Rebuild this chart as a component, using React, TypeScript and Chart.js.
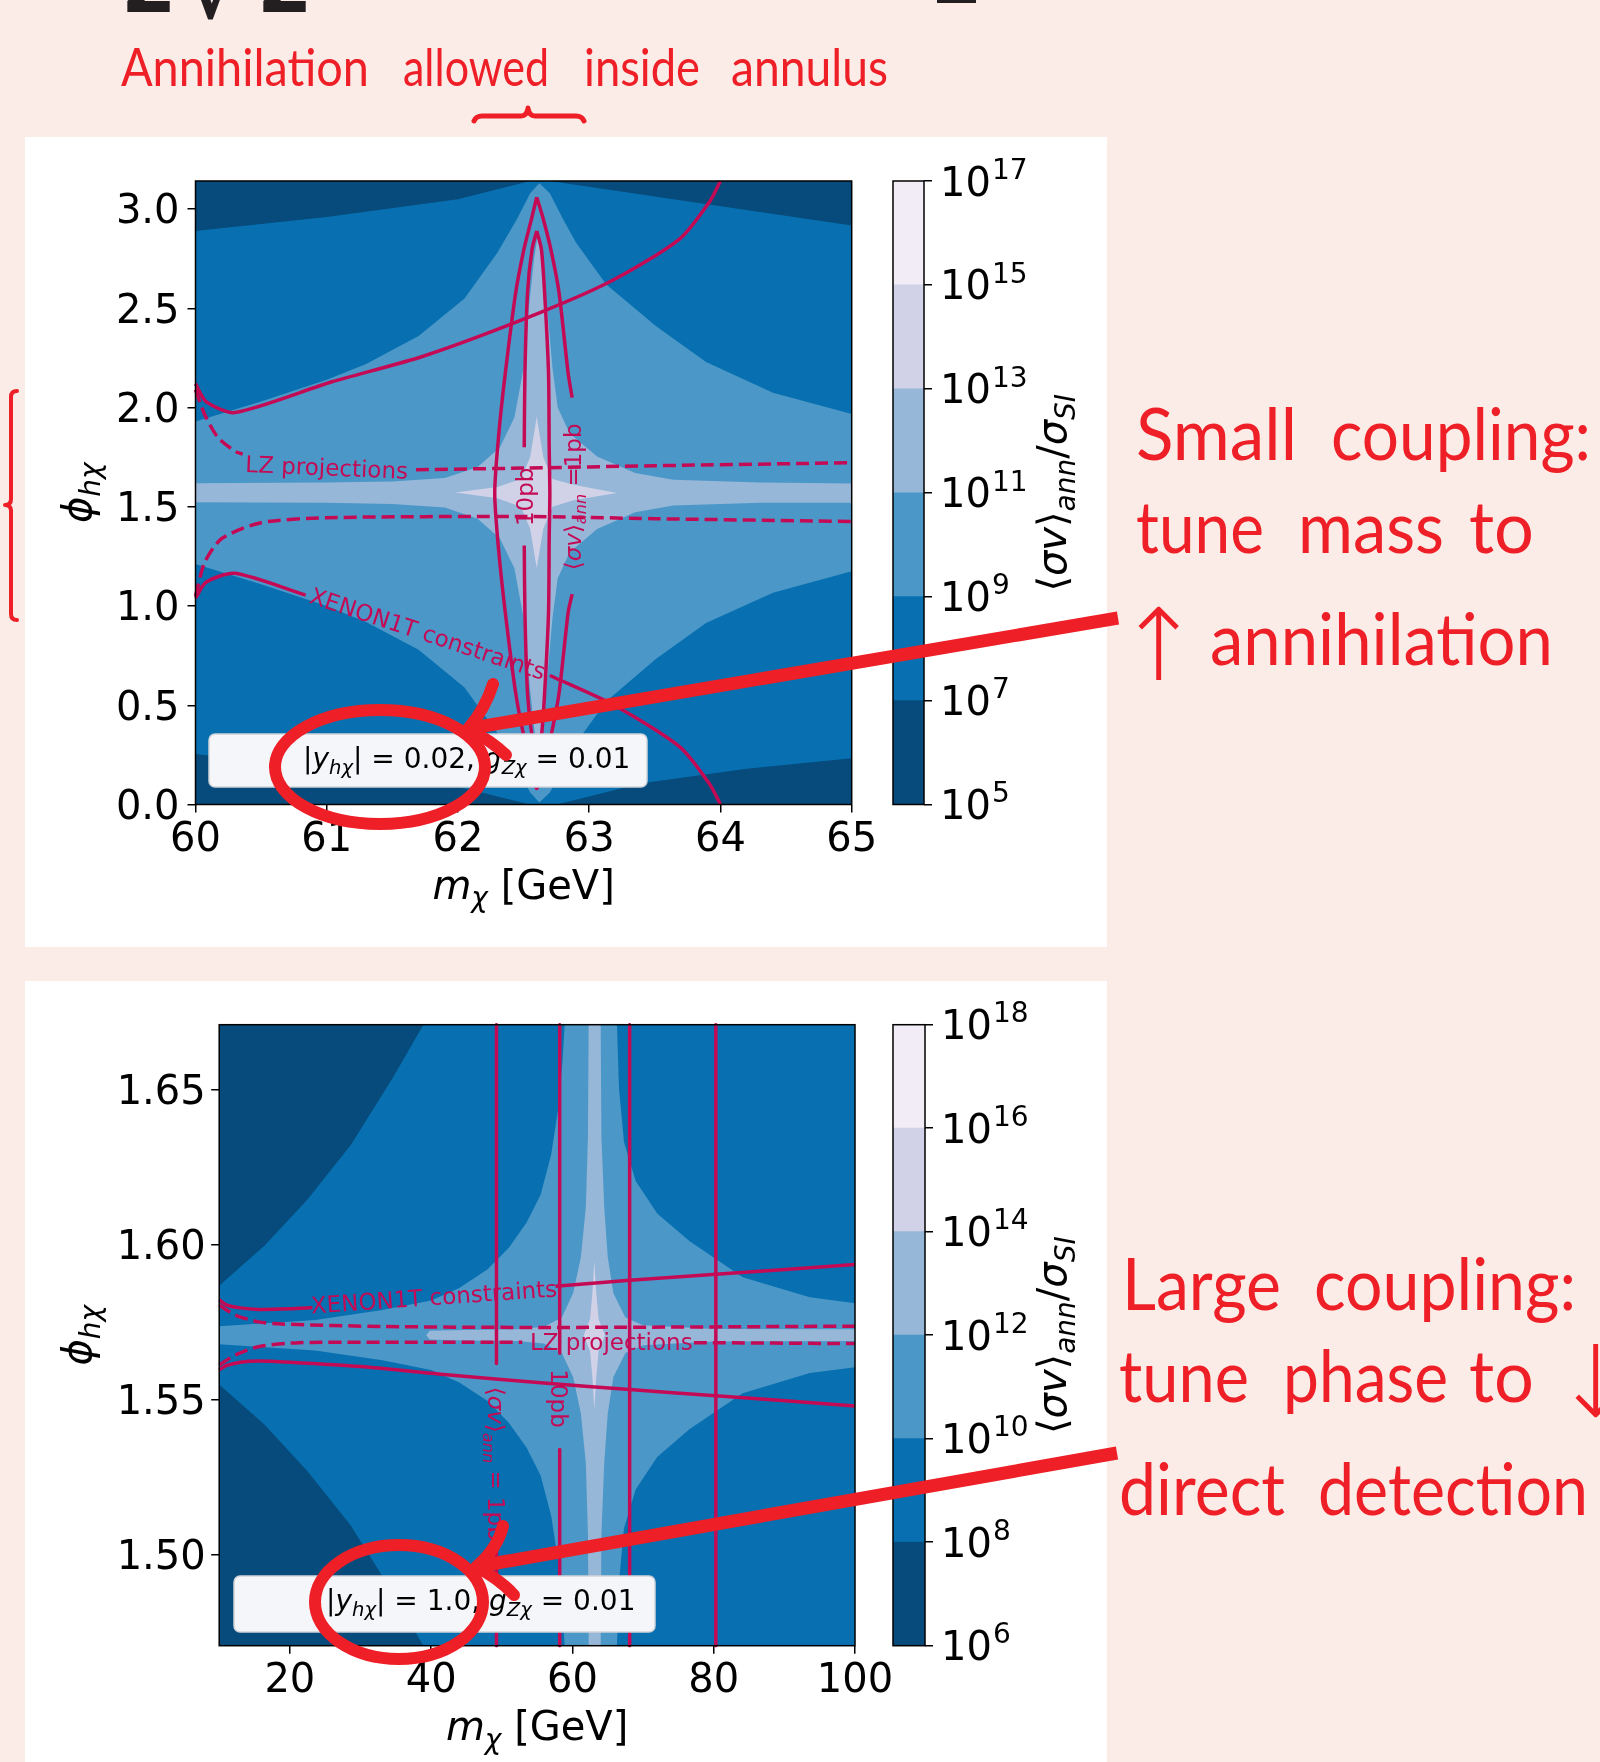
import React, { useEffect, useRef } from 'react';
import { Chart, registerables } from 'chart.js';

Chart.register(...registerables);
Chart.defaults.font.family = '"DejaVu Sans"';

type P = [number, number] | null;
type Seg = { t: string; it?: boolean; sub?: boolean; sup?: boolean };

const SLIDE_BG = '#fbece8';
const ANNOT_RED = '#ee1f26';
const LINE_RED = '#c40a55';
const LEVEL_COLORS = ['#064b7b', '#0870b0', '#4b98c8', '#97b7d9', '#d1d2e7', '#f1ecf5'];

// ================= TOP PANEL  (|y_hchi| = 0.02) =================
const TOP_X_RANGE = [60, 65];
const TOP_Y_RANGE = [0, 3.1416];
const TOP_X_TICKS = [60, 61, 62, 63, 64, 65];
const TOP_Y_TICKS = [0, 0.5, 1.0, 1.5, 2.0, 2.5, 3.0];
const TOP_CB_LEVELS = [1e5, 1e7, 1e9, 1e11, 1e13, 1e15, 1e17];

const TOP_DOMAIN: P[] = [[60, 0], [65, 0], [65, 3.1416], [60, 3.1416]];
const TOP_DARK_TL: P[] = [[60, 3.1416], [60, 2.89], [61, 2.96], [62, 3.05], [62.55, 3.1416]];
const TOP_DARK_TR: P[] = [[62.7, 3.1416], [63.5, 3.063], [64.3, 2.986], [65, 2.918], [65, 3.1416]];
const TOP_DARK_BL: P[] = [[60, 0], [60, 0.254], [61, 0.18], [62, 0.09], [62.55, 0]];
const TOP_DARK_BR: P[] = [[62.75, 0], [63.0, 0.04], [63.4, 0.107], [64.2, 0.18], [65, 0.233], [65, 0]];
const TOP_L2: P[] = [
  [60, 1.93], [60.5, 2.03], [61, 2.14], [61.3, 2.22], [61.7, 2.36], [62.05, 2.55], [62.3, 2.78], [62.45, 2.95],
  [62.55, 3.08], [62.62, 3.13], [62.7, 3.08], [62.8, 2.95], [62.9, 2.83], [63.13, 2.62], [63.51, 2.41], [63.89, 2.23],
  [64.4, 2.075], [65, 1.967],
  [65, 1.175], [64.4, 1.067], [63.89, 0.915], [63.51, 0.735], [63.13, 0.52], [62.9, 0.31], [62.8, 0.19], [62.7, 0.06],
  [62.62, 0.01], [62.55, 0.06], [62.45, 0.19], [62.3, 0.36], [62.05, 0.59], [61.7, 0.78], [61.3, 0.92], [61, 1.0],
  [60.5, 1.11], [60, 1.212],
];
const TOP_L3: P[] = [
  [60, 1.619], [61, 1.622], [61.5, 1.628], [61.9, 1.645], [62.15, 1.70], [62.32, 1.80], [62.43, 1.95], [62.5, 2.2],
  [62.54, 2.5], [62.58, 2.75], [62.61, 2.88], [62.64, 2.75], [62.68, 2.5], [62.72, 2.2], [62.76, 2.0], [62.85, 1.87],
  [63.06, 1.754], [63.35, 1.67], [63.64, 1.636], [64.3, 1.622], [65, 1.617],
  [65, 1.52], [64.3, 1.52], [63.64, 1.506], [63.35, 1.472], [63.06, 1.388], [62.85, 1.27], [62.76, 1.14], [62.72, 0.94],
  [62.68, 0.64], [62.64, 0.39], [62.61, 0.26], [62.58, 0.39], [62.54, 0.64], [62.5, 0.94], [62.43, 1.19], [62.32, 1.34],
  [62.15, 1.44], [61.9, 1.497], [61.5, 1.514], [61, 1.52], [60, 1.523],
];
const TOP_L4: P[] = [
  [61.98, 1.572], [62.3, 1.60], [62.48, 1.64], [62.55, 1.75], [62.575, 1.85], [62.6, 1.955], [62.625, 1.85],
  [62.65, 1.75], [62.72, 1.64], [62.88, 1.611], [63.21, 1.57], [62.88, 1.533], [62.72, 1.50], [62.65, 1.39],
  [62.625, 1.29], [62.6, 1.19], [62.575, 1.29], [62.55, 1.39], [62.48, 1.50], [62.3, 1.543],
];
const TOP_XENON_UPPER: P[] = [
  [60, 2.12], [60.08, 2.03], [60.3, 1.975], [61.04, 2.13], [61.74, 2.26], [62.63, 2.48], [63.19, 2.645],
  [63.69, 2.85], [63.92, 3.04], [64.0, 3.1416],
];
const TOP_XENON_LOWER: P[] = [
  [60, 1.04], [60.08, 1.12], [60.3, 1.165], [60.84, 1.055], null,
  [62.7, 0.65], [63.19, 0.5], [63.69, 0.29], [63.92, 0.1], [64.0, 0],
];
const TOP_LZ_UPPER: P[] = [
  [60, 2.09], [60.07, 1.965], [60.17, 1.85], [60.3, 1.78], [60.36, 1.765], null,
  [61.68, 1.687], [62.5, 1.695], [63.5, 1.707], [65, 1.722],
];
const TOP_LZ_LOWER: P[] = [
  [60, 1.05], [60.07, 1.22], [60.2, 1.34], [60.5, 1.42], [61, 1.445], [62.5, 1.451], [63.5, 1.44], [65, 1.426],
];
const TOP_SV_1PB: P[] = [
  [62.6, 3.06], [62.65, 2.95], [62.71, 2.79], [62.77, 2.58], [62.84, 2.17], [62.87, 2.05], null,
  [62.87, 1.06], [62.84, 0.97], [62.77, 0.56], [62.71, 0.35], [62.65, 0.19], [62.6, 0.08], [62.56, 0.19],
  [62.5, 0.35], [62.44, 0.56], [62.36, 0.97], [62.31, 1.28], [62.28, 1.57], [62.31, 1.86], [62.36, 2.17],
  [62.44, 2.58], [62.5, 2.79], [62.56, 2.95], [62.6, 3.06],
];
const TOP_SV_10PB: P[] = [
  [62.6, 2.89], [62.635, 2.8], [62.66, 2.58], [62.69, 2.17], [62.695, 1.8], [62.7, 1.57], [62.695, 1.34],
  [62.69, 0.97], [62.66, 0.56], [62.635, 0.34], [62.6, 0.25], [62.565, 0.34], [62.53, 0.56], [62.51, 0.97],
  [62.505, 1.305], null, [62.505, 1.8], [62.51, 2.17], [62.53, 2.58], [62.565, 2.8], [62.6, 2.89],
];

// ================= BOTTOM PANEL (|y_hchi| = 1.0) =================
const BOT_X_RANGE = [10, 100];
const BOT_Y_RANGE = [1.4708, 1.6708];
const BOT_X_TICKS = [20, 40, 60, 80, 100];
const BOT_Y_TICKS = [1.5, 1.55, 1.6, 1.65];
const BOT_CB_LEVELS = [1e6, 1e8, 1e10, 1e12, 1e14, 1e16, 1e18];

const BOT_DOMAIN: P[] = [[10, 1.4708], [100, 1.4708], [100, 1.6708], [10, 1.6708]];
const BOT_DARK_TL: P[] = [[10, 1.6708], [10, 1.5867], [16.4, 1.5996], [22.5, 1.6145], [28.6, 1.632], [34.6, 1.6538], [38.9, 1.6708]];
const BOT_DARK_BL: P[] = [[10, 1.4708], [10, 1.5549], [16.4, 1.542], [22.5, 1.527], [28.6, 1.5096], [34.6, 1.4878], [38.9, 1.4708]];
const BOT_L2: P[] = [
  [10, 1.5737], [23.6, 1.5757], [33.1, 1.5789], [40, 1.582], [44, 1.586], [48, 1.592], [51, 1.599], [53.5, 1.607],
  [55.5, 1.616], [57, 1.629], [58, 1.644], [58.6, 1.659], [58.9, 1.6708],
  [66.3, 1.6708], [66.6, 1.65], [67.3, 1.633], [68.95, 1.6205], [72, 1.61], [76.55, 1.6011], [84.1, 1.5895],
  [93.6, 1.583], [100, 1.5811],
  [100, 1.5605], [93.6, 1.5586], [84.1, 1.5521], [76.55, 1.5405], [72, 1.5316], [68.95, 1.5211], [67.3, 1.5086],
  [66.6, 1.4916], [66.3, 1.4708],
  [58.9, 1.4708], [58.6, 1.4826], [58, 1.4976], [57, 1.5126], [55.5, 1.5256], [53.5, 1.5346], [51, 1.5426],
  [48, 1.5496], [44, 1.5556], [40, 1.5596], [33.1, 1.5627], [23.6, 1.5659], [10, 1.5679],
];
const BOT_L3: P[] = [
  [39.3, 1.5708], [39.8, 1.5722], [45, 1.5725], [52, 1.5727], [56, 1.5735], [58.5, 1.5765], [60.1, 1.5843],
  [61.2, 1.596], [61.9, 1.612], [62.2, 1.635], [62.3, 1.6708], [64, 1.6708], [64.1, 1.635], [64.5, 1.612],
  [65, 1.596], [65.8, 1.5843], [67.5, 1.5765], [70, 1.574], [80, 1.5728], [100, 1.5727],
  [100, 1.5689], [80, 1.5688], [70, 1.5676], [67.5, 1.5651], [65.8, 1.5573], [65, 1.5456], [64.5, 1.5296],
  [64.1, 1.5066], [64, 1.4708], [62.3, 1.4708], [62.2, 1.5066], [61.9, 1.5296], [61.2, 1.5456], [60.1, 1.5573],
  [58.5, 1.5651], [56, 1.5681], [52, 1.5689], [45, 1.5691], [39.8, 1.5694],
];
const BOT_L4: P[] = [
  [63.1, 1.5947], [63.35, 1.585], [63.7, 1.576], [64.6, 1.5708], [63.7, 1.5656], [63.35, 1.5566], [63.1, 1.5468],
  [62.85, 1.5566], [62.5, 1.5656], [61.6, 1.5708], [62.5, 1.576], [62.85, 1.585],
];
const BOT_SV_1PB_LEFT: P[] = [[49.25, 1.6708], [49.25, 1.5617], null, [49.25, 1.5035], [49.25, 1.4708]];
const BOT_SV_10PB_LEFT: P[] = [[58.2, 1.6708], [58.2, 1.565], null, [58.2, 1.534], [58.2, 1.4708]];
const BOT_SV_10PB_RIGHT: P[] = [[68.1, 1.6708], [68.1, 1.4708]];
const BOT_SV_1PB_RIGHT: P[] = [[80.3, 1.6708], [80.3, 1.4708]];
const BOT_XENON_UPPER: P[] = [
  [10, 1.5822], [11, 1.5806], [13, 1.5796], [15.6, 1.5791], [20, 1.5793], [23.2, 1.5797], null,
  [57.6, 1.5866], [68.1, 1.5885], [80.3, 1.5904], [100, 1.5936],
];
const BOT_XENON_LOWER: P[] = [
  [10, 1.5596], [11, 1.561], [13, 1.5621], [15.6, 1.5625], [20, 1.5621], [30, 1.5607], [42.6, 1.558],
  [56.4, 1.5553], [68.1, 1.5533], [80.3, 1.5513], [100, 1.548],
];
const BOT_LZ_UPPER: P[] = [
  [10, 1.5805], [12.25, 1.5773], [15.57, 1.5751], [18.9, 1.5744], [33.1, 1.5736], [56.4, 1.5733], [100, 1.5737],
];
const BOT_LZ_LOWER: P[] = [
  [10, 1.5612], [12.25, 1.5644], [15.57, 1.5671], [21.3, 1.5684], [46, 1.5685], [52.9, 1.5685], null,
  [77.2, 1.5684], [100, 1.5681],
];

// ================= text pieces =================
const Y_TITLE: Seg[] = [{ t: 'ϕ', it: true }, { t: 'hχ', it: true, sub: true }];
const X_TITLE: Seg[] = [{ t: 'm', it: true }, { t: 'χ', it: true, sub: true }, { t: ' [GeV]' }];
const CB_TITLE: Seg[] = [
  { t: '⟨' }, { t: 'σv', it: true }, { t: '⟩' }, { t: 'ann', it: true, sub: true },
  { t: '/' }, { t: 'σ', it: true }, { t: 'SI', it: true, sub: true },
];
const LBL_XENON: Seg[] = [{ t: 'XENON1T constraints' }];
const LBL_LZ: Seg[] = [{ t: 'LZ projections' }];
const LBL_10PB: Seg[] = [{ t: '10pb' }];
const LBL_1PB_TOP: Seg[] = [{ t: '⟨' }, { t: 'σv', it: true }, { t: '⟩' }, { t: 'ann', it: true, sub: true }, { t: ' =1pb' }];
const LBL_1PB_BOT: Seg[] = [{ t: '⟨' }, { t: 'σv', it: true }, { t: '⟩' }, { t: 'ann', it: true, sub: true }, { t: ' = 1pb' }];
const BOX_TOP: Seg[] = [
  { t: '|' }, { t: 'y', it: true }, { t: 'hχ', it: true, sub: true }, { t: '| = 0.02, ' },
  { t: 'g', it: true }, { t: 'Zχ', it: true, sub: true }, { t: ' = 0.01' },
];
const BOX_BOT: Seg[] = [
  { t: '|' }, { t: 'y', it: true }, { t: 'hχ', it: true, sub: true }, { t: '| = 1.0, ' },
  { t: 'g', it: true }, { t: 'Zχ', it: true, sub: true }, { t: ' = 0.01' },
];

// ================= helpers =================
function toXY(pts: P[]) {
  return pts.map((p) => (p ? { x: p[0], y: p[1] } : { x: null, y: null }));
}
function segFont(s: Seg, size: number) {
  const sz = s.sub || s.sup ? size * 0.7 : size;
  return `${s.it ? 'italic ' : ''}${sz}px "DejaVu Sans"`;
}
function richWidth(ctx: CanvasRenderingContext2D, segs: Seg[], size: number) {
  let w = 0;
  for (const s of segs) {
    ctx.font = segFont(s, size);
    w += ctx.measureText(s.t).width;
  }
  return w;
}
function drawRich(
  ctx: CanvasRenderingContext2D, segs: Seg[], x: number, y: number, size: number,
  align: 'left' | 'center' | 'right', rotDeg: number, color: string, centerV: boolean,
) {
  ctx.save();
  ctx.translate(x, y);
  ctx.rotate((rotDeg * Math.PI) / 180);
  ctx.fillStyle = color;
  ctx.textBaseline = 'alphabetic';
  ctx.textAlign = 'left';
  const w = richWidth(ctx, segs, size);
  let cx = align === 'center' ? -w / 2 : align === 'right' ? -w : 0;
  const by = centerV ? size * 0.36 : 0;
  for (const s of segs) {
    ctx.font = segFont(s, size);
    const dy = s.sub ? size * 0.22 : s.sup ? -size * 0.42 : 0;
    ctx.fillText(s.t, cx, by + dy);
    cx += ctx.measureText(s.t).width;
  }
  ctx.restore();
}

type Spec = {
  xRange: number[]; yRange: number[]; xTicks: number[]; yTicks: number[]; yDec: number;
  domain: P[]; fills: { pts: P[]; level: number }[]; lines: { pts: P[]; dashed: boolean; smooth: boolean }[];
  labels: { segs: Seg[]; at: [number, number]; rot: number }[];
  box: { segs: Seg[]; dx: number; dyBottom: number; w: number; h: number; textDx: number; baseDy: number };
  yAxisWidth: number; xAxisHeight: number; padTop: number; padRight: number; yTickPad: number; yTitleX: number;
};

const TOP_SPEC: Spec = {
  xRange: TOP_X_RANGE, yRange: TOP_Y_RANGE, xTicks: TOP_X_TICKS, yTicks: TOP_Y_TICKS, yDec: 1,
  domain: TOP_DOMAIN,
  fills: [
    { pts: TOP_DARK_TL, level: 0 }, { pts: TOP_DARK_TR, level: 0 }, { pts: TOP_DARK_BL, level: 0 },
    { pts: TOP_DARK_BR, level: 0 }, { pts: TOP_L2, level: 2 }, { pts: TOP_L3, level: 3 }, { pts: TOP_L4, level: 4 },
  ],
  lines: [
    { pts: TOP_XENON_UPPER, dashed: false, smooth: true }, { pts: TOP_XENON_LOWER, dashed: false, smooth: true },
    { pts: TOP_LZ_UPPER, dashed: true, smooth: true }, { pts: TOP_LZ_LOWER, dashed: true, smooth: true },
    { pts: TOP_SV_1PB, dashed: false, smooth: true }, { pts: TOP_SV_10PB, dashed: false, smooth: true },
  ],
  labels: [
    { segs: LBL_XENON, at: [61.77, 0.862], rot: 18.3 },
    { segs: LBL_LZ, at: [61.0, 1.70], rot: 2.4 },
    { segs: LBL_1PB_TOP, at: [62.875, 1.55], rot: -90 },
    { segs: LBL_10PB, at: [62.505, 1.55], rot: -90 },
  ],
  box: { segs: BOX_TOP, dx: 13.5, dyBottom: 17.5, w: 438, h: 53, textDx: 94, baseDy: 34 },
  yAxisWidth: 170.5, xAxisHeight: 142.5, padTop: 44, padRight: 53.3, yTickPad: 8, yTitleX: 66,
};

const BOT_SPEC: Spec = {
  xRange: BOT_X_RANGE, yRange: BOT_Y_RANGE, xTicks: BOT_X_TICKS, yTicks: BOT_Y_TICKS, yDec: 2,
  domain: BOT_DOMAIN,
  fills: [
    { pts: BOT_DARK_TL, level: 0 }, { pts: BOT_DARK_BL, level: 0 },
    { pts: BOT_L2, level: 2 }, { pts: BOT_L3, level: 3 }, { pts: BOT_L4, level: 4 },
  ],
  lines: [
    { pts: BOT_SV_1PB_LEFT, dashed: false, smooth: false }, { pts: BOT_SV_10PB_LEFT, dashed: false, smooth: false },
    { pts: BOT_SV_10PB_RIGHT, dashed: false, smooth: false }, { pts: BOT_SV_1PB_RIGHT, dashed: false, smooth: false },
    { pts: BOT_XENON_UPPER, dashed: false, smooth: true }, { pts: BOT_XENON_LOWER, dashed: false, smooth: true },
    { pts: BOT_LZ_UPPER, dashed: true, smooth: true }, { pts: BOT_LZ_LOWER, dashed: true, smooth: true },
  ],
  labels: [
    { segs: LBL_XENON, at: [40.4, 1.5832], rot: -4 },
    { segs: LBL_LZ, at: [65.5, 1.5686], rot: 0 },
    { segs: LBL_1PB_BOT, at: [49.25, 1.5294], rot: 90 },
    { segs: LBL_10PB, at: [58.2, 1.5504], rot: 90 },
  ],
  box: { segs: BOX_BOT, dx: 14.8, dyBottom: 13.7, w: 421, h: 56, textDx: 92, baseDy: 33.7 },
  yAxisWidth: 194.2, xAxisHeight: 116.3, padTop: 43.7, padRight: 50, yTickPad: 5.5, yTitleX: 66,
};

function buildMainConfig(spec: Spec): any {
  const datasets: any[] = [];
  datasets.push({
    data: toXY(spec.domain), showLine: true, fill: 'shape', backgroundColor: LEVEL_COLORS[1],
    borderColor: LEVEL_COLORS[1], borderWidth: 0, pointRadius: 0, pointHoverRadius: 0, order: 100, clip: 0,
  });
  spec.fills.forEach((f, i) => {
    datasets.push({
      data: toXY(f.pts), showLine: true, fill: 'shape', backgroundColor: LEVEL_COLORS[f.level],
      borderColor: LEVEL_COLORS[f.level], borderWidth: 0, pointRadius: 0, pointHoverRadius: 0,
      order: 90 - i, clip: 0,
    });
  });
  spec.lines.forEach((l) => {
    datasets.push({
      data: toXY(l.pts), showLine: true, fill: false, borderColor: LINE_RED, backgroundColor: LINE_RED,
      borderWidth: 3.5, borderDash: l.dashed ? [13, 6] : [], pointRadius: 0, pointHoverRadius: 0,
      order: 1, spanGaps: false, clip: 2, tension: l.smooth ? 0.25 : 0, borderJoinStyle: 'round',
    });
  });

  const decor = {
    id: 'mainDecor',
    afterDatasetsDraw(chart: any) {
      const ctx: CanvasRenderingContext2D = chart.ctx;
      const a = chart.chartArea;
      const xs = chart.scales.x;
      const ys = chart.scales.y;
      ctx.save();
      ctx.beginPath();
      ctx.rect(a.left, a.top, a.right - a.left, a.bottom - a.top);
      ctx.clip();
      for (const L of spec.labels) {
        drawRich(ctx, L.segs, xs.getPixelForValue(L.at[0]), ys.getPixelForValue(L.at[1]), 23, 'center', L.rot, LINE_RED, true);
      }
      const b = spec.box;
      const bx = a.left + b.dx;
      const by = a.bottom - b.dyBottom - b.h;
      ctx.beginPath();
      (ctx as any).roundRect(bx, by, b.w, b.h, 6);
      ctx.fillStyle = '#f4f6f9';
      ctx.fill();
      ctx.strokeStyle = '#cfd3d8';
      ctx.lineWidth = 1.5;
      ctx.stroke();
      drawRich(ctx, b.segs, bx + b.textDx, by + b.baseDy, 28, 'left', 0, '#000', false);
      ctx.restore();
      ctx.save();
      ctx.strokeStyle = '#000';
      ctx.lineWidth = 1.5;
      ctx.strokeRect(a.left, a.top, a.right - a.left, a.bottom - a.top);
      ctx.restore();
      drawRich(ctx, X_TITLE, (a.left + a.right) / 2, a.bottom + 94, 40, 'center', 0, '#000', false);
      drawRich(ctx, Y_TITLE, spec.yTitleX, (a.top + a.bottom) / 2, 40, 'center', -90, '#000', false);
    },
  };

  const tickFont = { size: 40, family: '"DejaVu Sans"' };
  const grid = { drawOnChartArea: false, drawTicks: true, tickLength: 8, color: '#000', lineWidth: 1.5 };
  return {
    type: 'scatter',
    data: { datasets },
    options: {
      animation: false,
      responsive: false,
      events: [],
      layout: { autoPadding: false, padding: { left: 0, top: spec.padTop, right: spec.padRight, bottom: 0 } },
      plugins: { legend: { display: false }, tooltip: { enabled: false } },
      scales: {
        x: {
          type: 'linear', min: spec.xRange[0], max: spec.xRange[1],
          afterBuildTicks: (s: any) => { s.ticks = spec.xTicks.map((v) => ({ value: v })); },
          afterFit: (s: any) => { s.height = spec.xAxisHeight; },
          ticks: { callback: (v: any) => Number(v).toFixed(0), font: tickFont, color: '#000', padding: 4, maxRotation: 0, autoSkip: false },
          grid, border: { display: false },
        },
        y: {
          type: 'linear', min: spec.yRange[0], max: spec.yRange[1],
          afterBuildTicks: (s: any) => { s.ticks = spec.yTicks.map((v) => ({ value: v })); },
          afterFit: (s: any) => { s.width = spec.yAxisWidth; },
          ticks: { callback: (v: any) => Number(v).toFixed(spec.yDec), font: tickFont, color: '#000', padding: spec.yTickPad, labelOffset: 4, autoSkip: false },
          grid, border: { display: false },
        },
      },
    },
    plugins: [decor],
  };
}

type CbSpec = { levels: number[]; padLeft: number; padTop: number; padBottom: number; axisWidth: number };
const TOP_CB: CbSpec = { levels: TOP_CB_LEVELS, padLeft: 13, padTop: 44, padBottom: 142.5, axisWidth: 183 };
const BOT_CB: CbSpec = { levels: BOT_CB_LEVELS, padLeft: 13, padTop: 43.7, padBottom: 116.3, axisWidth: 182 };

function buildColorbarConfig(cb: CbSpec): any {
  const datasets = cb.levels.slice(0, -1).map((lo, i) => ({
    data: [[lo, cb.levels[i + 1]]],
    backgroundColor: LEVEL_COLORS[i],
    borderWidth: 0,
    grouped: false,
    barPercentage: 1,
    categoryPercentage: 1,
  }));
  const decor = {
    id: 'cbDecor',
    afterDraw(chart: any) {
      const ctx: CanvasRenderingContext2D = chart.ctx;
      const a = chart.chartArea;
      const ys = chart.scales.y;
      ctx.save();
      ctx.strokeStyle = '#000';
      ctx.lineWidth = 1.5;
      ctx.strokeRect(a.left, a.top, a.right - a.left, a.bottom - a.top);
      ctx.fillStyle = '#000';
      ctx.textBaseline = 'alphabetic';
      ctx.textAlign = 'left';
      for (const v of cb.levels) {
        const y = ys.getPixelForValue(v);
        const x0 = a.right + 16;
        const base = y + 40 * 0.3645;
        ctx.font = '40px "DejaVu Sans"';
        ctx.fillText('10', x0, base);
        const w = ctx.measureText('10').width;
        ctx.font = '28px "DejaVu Sans"';
        ctx.fillText(String(Math.round(Math.log10(v))), x0 + w + 1, base - 16.8);
      }
      ctx.restore();
      drawRich(ctx, CB_TITLE, 186, (a.top + a.bottom) / 2, 40, 'center', -90, '#000', false);
    },
  };
  return {
    type: 'bar',
    data: { labels: [''], datasets },
    options: {
      animation: false,
      responsive: false,
      events: [],
      layout: { autoPadding: false, padding: { left: cb.padLeft, top: cb.padTop, right: 0, bottom: cb.padBottom } },
      plugins: { legend: { display: false }, tooltip: { enabled: false } },
      scales: {
        x: { display: false },
        y: {
          type: 'logarithmic', position: 'right', min: cb.levels[0], max: cb.levels[cb.levels.length - 1],
          afterBuildTicks: (s: any) => { s.ticks = cb.levels.map((v) => ({ value: v })); },
          afterFit: (s: any) => { s.width = cb.axisWidth; },
          ticks: { callback: () => '', autoSkip: false },
          grid: { drawOnChartArea: false, drawTicks: true, tickLength: 8, color: '#000', lineWidth: 1.5 },
          border: { display: false },
        },
      },
    },
    plugins: [decor],
  };
}

function ChartCanvas(props: { config: () => any; left: number; top: number; width: number; height: number }) {
  const ref = useRef<HTMLCanvasElement>(null);
  useEffect(() => {
    const chart = new Chart(ref.current as HTMLCanvasElement, props.config());
    return () => chart.destroy();
  }, []);
  return (
    <canvas
      ref={ref}
      width={props.width}
      height={props.height}
      style={{ position: 'absolute', left: props.left, top: props.top, width: props.width, height: props.height }}
    />
  );
}

// slide annotation words: [text, x, baseline, fontSize, length]
const ANNOT_WORDS: [string, number, number, number, number][] = [
  ['Annihilation', 121, 86, 53, 248], ['allowed', 403, 86, 53, 146], ['inside', 584, 86, 53, 116], ['annulus', 731, 86, 53, 157],
  ['Small', 1136, 460, 72, 161], ['coupling:', 1331, 460, 72, 260],
  ['tune', 1136, 553, 72, 128], ['mass', 1298, 553, 72, 146], ['to', 1469, 553, 72, 65],
  ['annihilation', 1210, 665, 72, 343],
  ['Large', 1122, 1310, 72, 159], ['coupling:', 1314, 1310, 72, 262],
  ['tune', 1119, 1402, 72, 130], ['phase', 1283, 1402, 72, 165], ['to', 1469, 1402, 72, 65],
  ['direct', 1119, 1515, 72, 166], ['detection', 1318, 1515, 72, 270],
];

function Annotations() {
  return (
    <svg width={1600} height={1762} style={{ position: 'absolute', left: 0, top: 0, pointerEvents: 'none' }}>
      <text x={121} y={12} fontFamily="DejaVu Sans" fontWeight="bold" fontSize={80} fill="#231f20">2</text>
      <text x={186} y={18} fontFamily="DejaVu Sans" fontWeight="bold" fontSize={80} fill="#231f20">√</text>
      <text x={257} y={12} fontFamily="DejaVu Sans" fontWeight="bold" fontSize={80} fill="#231f20">2</text>
      <rect x={937} y={0} width={39} height={3} fill="#231f20" />
      {ANNOT_WORDS.map(([s, x, y, fs, len], i) => (
        <text key={i} x={x} y={y} fontFamily="Lato" fontSize={fs} fill={ANNOT_RED} textLength={len} lengthAdjust="spacingAndGlyphs">{s}</text>
      ))}
      <text x={1117} y={680} fontFamily="DejaVu Sans" fontWeight={200} fontSize={100} fill={ANNOT_RED}>↑</text>
      <text x={1554} y={1417} fontFamily="DejaVu Sans" fontWeight={200} fontSize={100} fill={ANNOT_RED}>↓</text>
      <path d="M 474 121 Q 476 116 482 116 L 521 116 Q 527 116 528 108 Q 529 116 535 116 L 576 116 Q 582 116 584 121"
        stroke={ANNOT_RED} strokeWidth={5} fill="none" strokeLinecap="round" strokeLinejoin="round" />
      <path d="M 17 391 Q 11 391 11 397 L 11 499 Q 11 505 5 505 Q 11 505 11 511 L 11 614 Q 11 620 17 620"
        stroke={ANNOT_RED} strokeWidth={4} fill="none" strokeLinecap="round" strokeLinejoin="round" />
      <line x1={1118} y1={618} x2={472} y2={728} stroke={ANNOT_RED} strokeWidth={13} />
      <path d="M 493 684 C 488 700 479 716 468 729 C 482 736 495 744 506 755" stroke={ANNOT_RED} strokeWidth={12}
        fill="none" strokeLinecap="round" strokeLinejoin="round" />
      <ellipse cx={380} cy={767} rx={105} ry={57} stroke={ANNOT_RED} strokeWidth={12} fill="none" />
      <line x1={1117} y1={1453} x2={480} y2={1566} stroke={ANNOT_RED} strokeWidth={13} />
      <path d="M 503 1526 C 499 1542 489 1556 476 1567 C 490 1574 503 1583 514 1595" stroke={ANNOT_RED} strokeWidth={12}
        fill="none" strokeLinecap="round" strokeLinejoin="round" />
      <ellipse cx={399} cy={1602} rx={84} ry={57} stroke={ANNOT_RED} strokeWidth={12} fill="none" />
    </svg>
  );
}

export default function App() {
  return (
    <div style={{ position: 'absolute', left: 0, top: 0, width: 1600, height: 1762, background: SLIDE_BG, overflow: 'hidden' }}>
      <div style={{ position: 'absolute', left: 25, top: 137, width: 1082, height: 810, background: '#fff' }} />
      <div style={{ position: 'absolute', left: 25, top: 981, width: 1082, height: 781, background: '#fff' }} />
      <ChartCanvas config={() => buildMainConfig(TOP_SPEC)} left={25} top={137} width={880} height={810} />
      <ChartCanvas config={() => buildColorbarConfig(TOP_CB)} left={880} top={137} width={227} height={810} />
      <ChartCanvas config={() => buildMainConfig(BOT_SPEC)} left={25} top={981} width={880} height={781} />
      <ChartCanvas config={() => buildColorbarConfig(BOT_CB)} left={880} top={981} width={227} height={781} />
      <Annotations />
    </div>
  );
}
